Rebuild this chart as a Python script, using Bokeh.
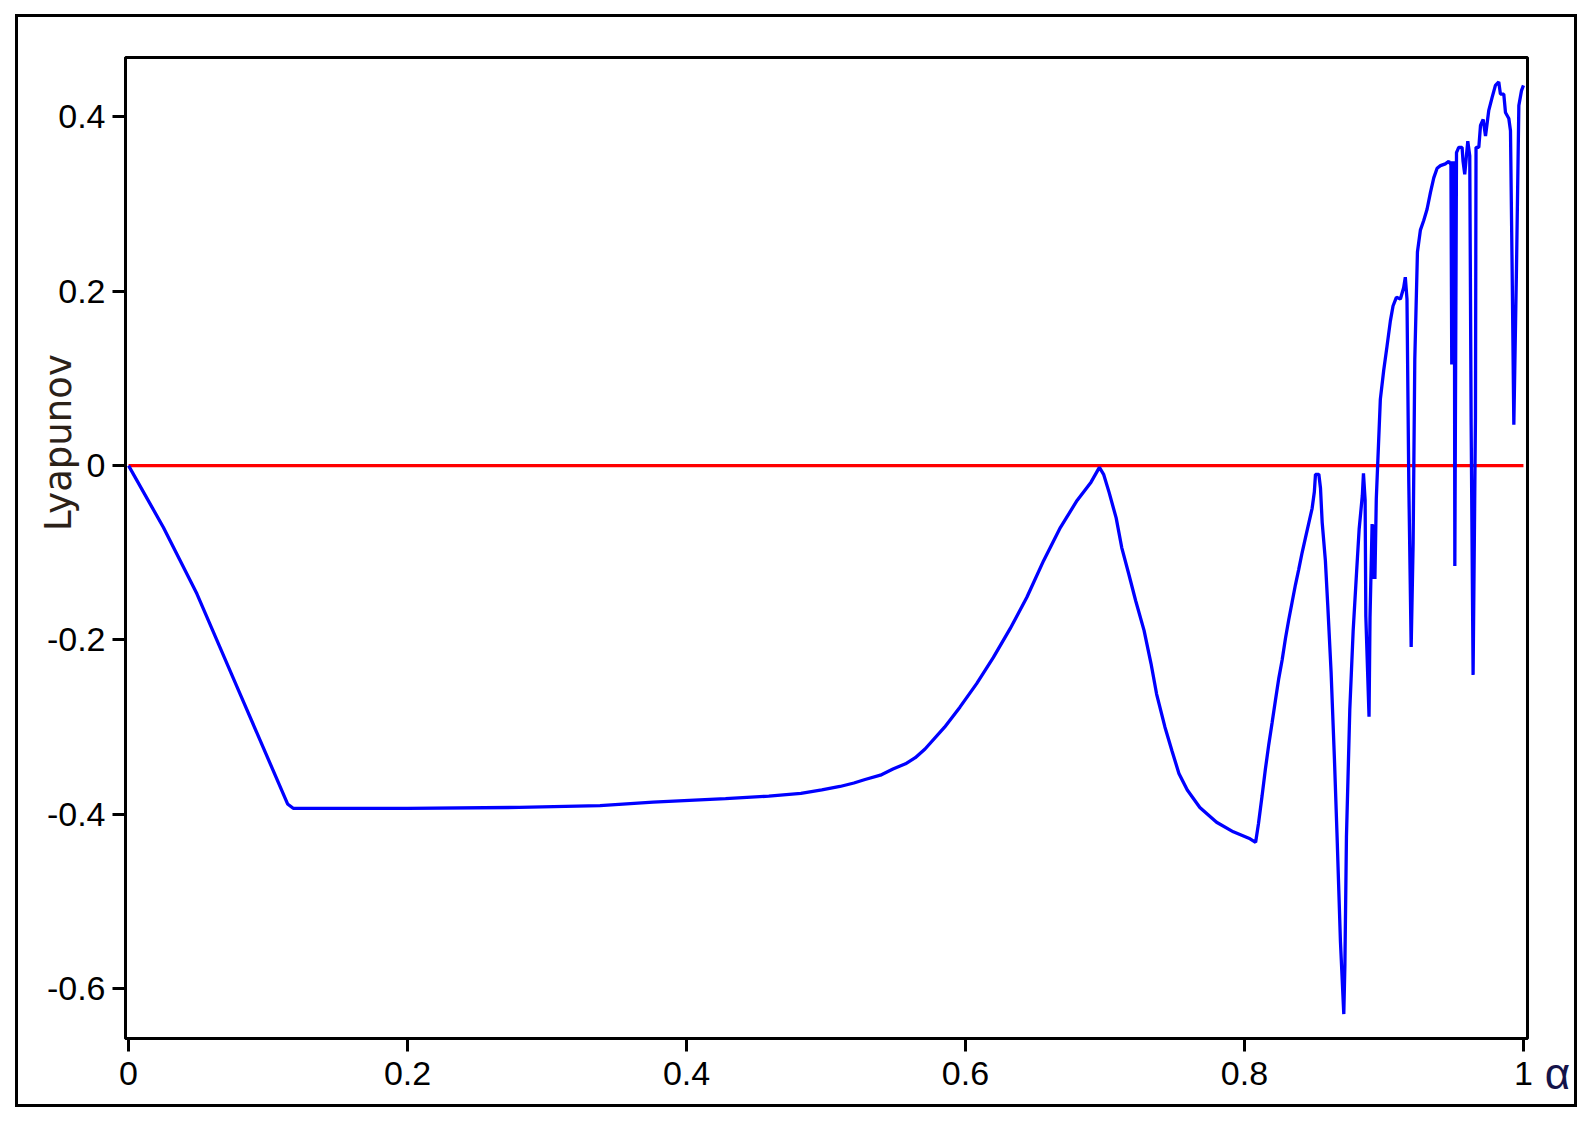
import math
from bokeh.plotting import figure
from bokeh.models import FixedTicker, Label, Range1d, Spacer
from bokeh.layouts import column, row
from bokeh.embed import file_html
from bokeh.resources import INLINE

# ---- data ----
alpha = [0.000, 0.025, 0.049, 0.080, 0.114, 0.118, 0.200, 0.280, 0.338, 0.376,
         0.428, 0.459, 0.482, 0.497, 0.510, 0.520, 0.528, 0.539, 0.548, 0.557,
         0.564, 0.571, 0.585, 0.596, 0.608, 0.620, 0.632, 0.644, 0.656, 0.668,
         0.680, 0.690, 0.696, 0.699, 0.703, 0.708, 0.712, 0.717, 0.722, 0.728,
         0.733, 0.737, 0.743, 0.748, 0.753, 0.759, 0.768, 0.780, 0.792, 0.804,
         0.808, 0.810, 0.8126, 0.815, 0.8174, 0.8198, 0.8222, 0.8246, 0.827, 0.8294,
         0.8317, 0.8341, 0.8365, 0.8389, 0.8413, 0.8437, 0.8461, 0.8485, 0.8501, 0.8509,
         0.8533, 0.8545, 0.8557, 0.8580, 0.8597, 0.8621, 0.8645, 0.8664, 0.8688, 0.8712,
         0.8720, 0.8731, 0.8755, 0.8779, 0.8803, 0.8822, 0.8845, 0.8853, 0.8865, 0.8870,
         0.8893, 0.8900, 0.8915, 0.8920, 0.8928, 0.8935, 0.8945, 0.8974, 0.8998, 0.9022,
         0.9046, 0.9065, 0.9089, 0.9118, 0.9141, 0.9153, 0.9165, 0.9178, 0.9195, 0.9209,
         0.9221, 0.9240, 0.9261, 0.9285, 0.9309, 0.9333, 0.9357, 0.9381, 0.9405, 0.9440,
         0.9465, 0.9480, 0.9486, 0.9492, 0.9498, 0.9504, 0.9508, 0.9520, 0.9536, 0.9560,
         0.9567, 0.9579, 0.9591, 0.9601, 0.9615, 0.9625, 0.9639, 0.9656, 0.9660, 0.9680,
         0.9692, 0.9711, 0.9728, 0.9751, 0.9775, 0.9799, 0.9823, 0.9835, 0.9859, 0.9871,
         0.9895, 0.9907, 0.9919, 0.9931, 0.9950, 0.9967, 0.9986, 1.000]

lyapunov = [0.000, -0.071, -0.147, -0.262, -0.388, -0.393, -0.393, -0.392, -0.390, -0.386,
            -0.382, -0.379, -0.376, -0.372, -0.368, -0.364, -0.360, -0.355, -0.348, -0.342,
            -0.335, -0.325, -0.300, -0.277, -0.250, -0.220, -0.187, -0.151, -0.109, -0.071,
            -0.040, -0.019, -0.002, -0.010, -0.031, -0.060, -0.094, -0.124, -0.155, -0.189,
            -0.227, -0.262, -0.300, -0.327, -0.353, -0.372, -0.392, -0.409, -0.420, -0.428,
            -0.432, -0.411, -0.379, -0.348, -0.320, -0.295, -0.269, -0.244, -0.223, -0.198,
            -0.177, -0.157, -0.137, -0.119, -0.100, -0.083, -0.066, -0.049, -0.030, -0.010,
            -0.010, -0.026, -0.065, -0.109, -0.160, -0.237, -0.337, -0.426, -0.546, -0.629,
            -0.572, -0.426, -0.280, -0.190, -0.124, -0.073, -0.034, -0.009, -0.040, -0.173,
            -0.288, -0.174, -0.067, -0.130, -0.068, -0.130, -0.038, 0.076, 0.109, 0.137,
            0.166, 0.183, 0.193, 0.191, 0.204, 0.216, 0.191, -0.020, -0.208, -0.090,
            0.122, 0.245, 0.270, 0.281, 0.294, 0.313, 0.330, 0.341, 0.344, 0.346,
            0.349, 0.345, 0.116, 0.349, 0.116, 0.349, -0.115, 0.359, 0.365, 0.365,
            0.349, 0.334, 0.355, 0.372, 0.355, 0.047, -0.240, 0.055, 0.365, 0.365,
            0.390, 0.397, 0.378, 0.407, 0.422, 0.436, 0.440, 0.426, 0.426, 0.405,
            0.398, 0.384, 0.223, 0.047, 0.226, 0.413, 0.430, 0.436]

zero_x = [0.0, 1.0]
zero_y = [0.0, 0.0]

x_ticks = [0, 0.2, 0.4, 0.6, 0.8, 1]
x_tick_labels = ["0", "0.2", "0.4", "0.6", "0.8", "1"]
y_ticks = [-0.6, -0.4, -0.2, 0, 0.2, 0.4]
y_tick_labels = ["-0.6", "-0.4", "-0.2", "0", "0.2", "0.4"]

y_title = "Lyapunov"
x_title = "\u03b1"

FONT = "Liberation Sans"

p = figure(width=1562, height=1093, output_backend="svg", toolbar_location=None,
           x_range=Range1d(-0.0022, 1.0029), y_range=Range1d(-0.657, 0.468),
           min_border_left=107, min_border_right=53, min_border_top=40, min_border_bottom=72,
           styles={"border": "3px solid black"})

p.grid.visible = False
p.background_fill_color = "white"
p.border_fill_color = "white"
p.outline_line_color = "black"
p.outline_line_width = 3
p.outline_line_alpha = 1.0

for ax in (p.xaxis[0], p.yaxis[0]):
    ax.axis_line_width = 3
    ax.axis_line_color = "black"
    ax.major_tick_line_width = 3
    ax.major_tick_line_color = "black"
    ax.major_tick_out = 13
    ax.major_tick_in = 0
    ax.minor_tick_line_color = None
    ax.major_label_text_font = FONT
    ax.major_label_text_font_size = "34px"
    ax.major_label_text_color = "black"

p.xaxis.ticker = FixedTicker(ticks=x_ticks)
p.yaxis.ticker = FixedTicker(ticks=y_ticks)
p.xaxis.major_label_overrides = {t: l for t, l in zip(x_ticks, x_tick_labels)}
p.yaxis.major_label_overrides = {t: l for t, l in zip(y_ticks, y_tick_labels)}
p.xaxis.major_label_standoff = 10
p.yaxis.major_label_standoff = 7

p.line(zero_x, zero_y, line_color="red", line_width=3.3)
p.line(alpha, lyapunov, line_color="blue", line_width=3.3)

# axis titles beside the frame (kept in side panels so they are not clipped)
p.add_layout(Label(x=-0.0502, y=0.0264, text=y_title,
                   angle=math.pi / 2, text_align="center", text_baseline="middle",
                   text_font="DejaVu Sans", text_font_size="37px", text_color="#2b2118"), "right")
p.add_layout(Label(x=1.0244, y=-0.697, text=x_title,
                   text_align="center", text_baseline="middle",
                   text_font=FONT, text_font_size="44px", text_color="#14144a"), "left")

# page offset of the framed picture
layout = column(Spacer(width=10, height=14), row(Spacer(width=15, height=10), p))

open("out.html", "w").write(file_html(layout, INLINE))
